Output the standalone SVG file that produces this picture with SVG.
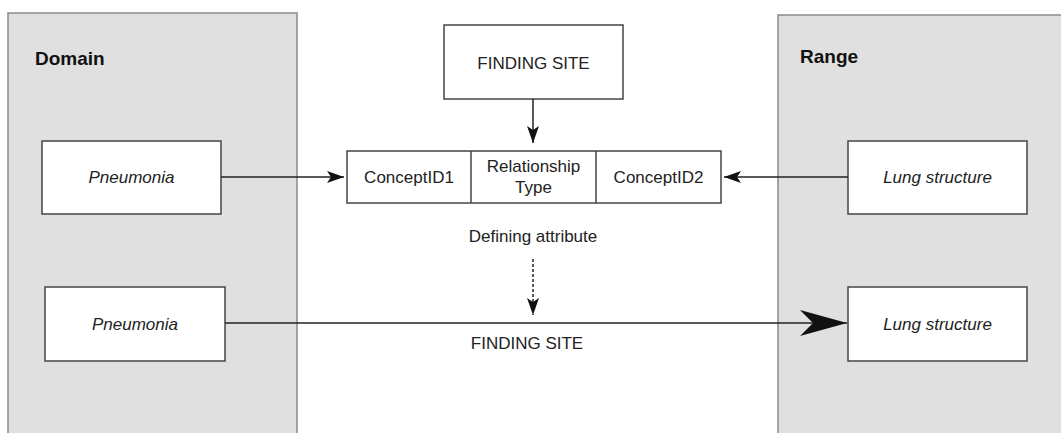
<svg xmlns="http://www.w3.org/2000/svg" width="1061" height="433" viewBox="0 0 1061 433">
<style>
.panel{fill:#e0e0e0;stroke:#8a8a8a;stroke-width:1.5}
.box{fill:#fff;stroke:#444;stroke-width:1.5}
.t{font-family:"Liberation Sans",Arial,sans-serif;font-size:17px;fill:#222;text-anchor:middle}
.i{font-style:italic}
.h{font-family:"Liberation Sans",Arial,sans-serif;font-size:19px;font-weight:bold;fill:#111}
.c{fill:none;stroke:#222;stroke-width:1.5}
</style>
<defs>
<marker id="arr" markerUnits="userSpaceOnUse" markerWidth="18" markerHeight="12" refX="17" refY="6" orient="auto"><path d="M0,0 L17,6 L0,12 L4,6 z" fill="#111"/></marker>
<marker id="big" markerUnits="userSpaceOnUse" markerWidth="48" markerHeight="28" refX="47" refY="14" orient="auto"><path d="M0,1 L47,14 L0,27 L13,14 z" fill="#111"/></marker>
</defs>
<g id="domain"><rect class="panel" x="8" y="13" width="289" height="430"/><text class="h" x="35" y="65">Domain</text></g>
<g id="range"><rect class="panel" x="778" y="15" width="300" height="430"/><text class="h" x="800" y="63">Range</text></g>
<g id="pneumonia1"><rect class="box" x="42" y="141" width="179" height="73"/><text class="t i" x="131.5" y="183">Pneumonia</text></g>
<g id="pneumonia2"><rect class="box" x="45" y="287" width="180" height="74"/><text class="t i" x="135" y="330">Pneumonia</text></g>
<g id="lung1"><rect class="box" x="848" y="141" width="179" height="73"/><text class="t i" x="937.5" y="183">Lung structure</text></g>
<g id="lung2"><rect class="box" x="848" y="287" width="179" height="74"/><text class="t i" x="937.5" y="330">Lung structure</text></g>
<g id="finding-site-box"><rect class="box" x="444" y="25" width="179" height="74"/><text class="t" x="533.5" y="69">FINDING SITE</text></g>
<g id="relationship-table">
<rect class="box" x="347" y="151" width="374" height="52"/>
<line class="box" x1="471" y1="151" x2="471" y2="203"/>
<line class="box" x1="596" y1="151" x2="596" y2="203"/>
<text class="t" x="409" y="183">ConceptID1</text>
<text class="t" x="533.5" y="172">Relationship</text>
<text class="t" x="533.5" y="193">Type</text>
<text class="t" x="658.5" y="183">ConceptID2</text>
</g>
<g id="labels">
<text class="t" x="533" y="242">Defining attribute</text>
<text class="t" x="527" y="349">FINDING SITE</text>
</g>
<g id="connectors">
<line class="c" x1="533" y1="99" x2="533" y2="143" marker-end="url(#arr)"/>
<line class="c" x1="221" y1="177" x2="344" y2="177" marker-end="url(#arr)"/>
<line class="c" x1="848" y1="177" x2="724" y2="177" marker-end="url(#arr)"/>
<line class="c" x1="533" y1="259" x2="533" y2="315" stroke-dasharray="3,2" marker-end="url(#arr)"/>
<line class="c" x1="225" y1="323" x2="847" y2="323" stroke-width="2.5" marker-end="url(#big)"/>
</g>
</svg>
